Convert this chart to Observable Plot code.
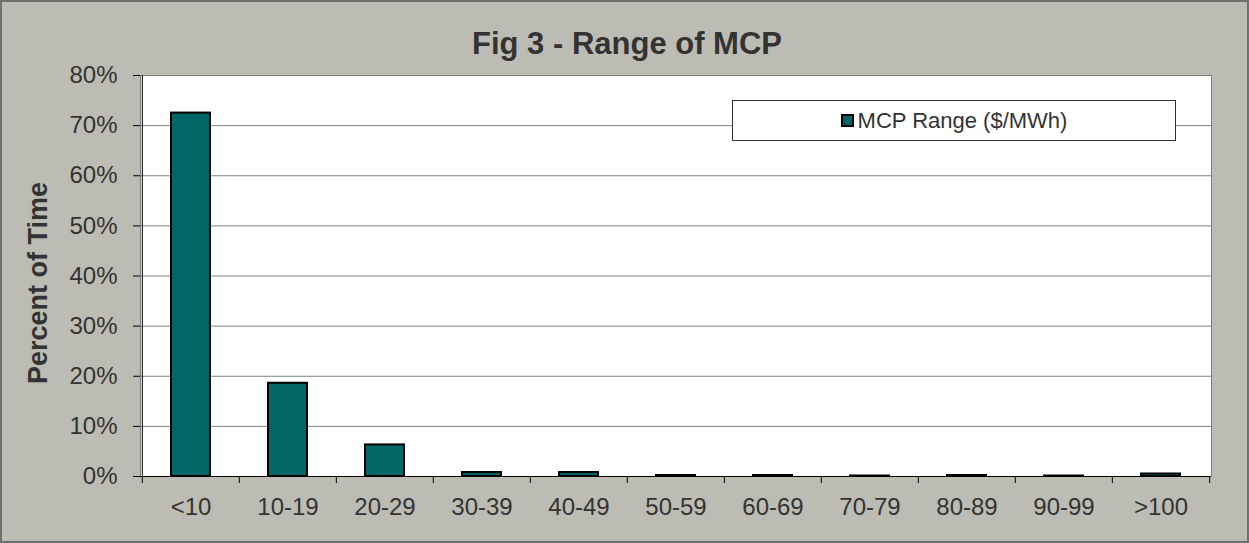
<!DOCTYPE html>
<html>
<head>
<meta charset="utf-8">
<script src="https://cdn.jsdelivr.net/npm/d3@7"></script>
<script src="https://cdn.jsdelivr.net/npm/@observablehq/plot@0.6"></script>
<style>
  html, body { margin: 0; padding: 0; background: #ffffff; }
  #wrap { position: relative; width: 1249px; height: 543px; background: #BDBCB4; overflow: hidden;
          font-family: "Liberation Sans", Arial, sans-serif; color: #333; }
  #wrap svg { position: absolute; left: 0; top: 0; }
  #border { position: absolute; left: 0; top: 0; width: 1249px; height: 543px; box-sizing: border-box;
            border: 2px solid #707070; pointer-events: none; }
  #title { position: absolute; left: 0; top: 28px; width: 1254px; text-align: center; font-weight: bold;
           font-size: 31px; line-height: 1; color: #333; white-space: nowrap; }
  #ylabel { position: absolute; left: 37.5px; top: 283px; transform: translate(-50%, -50%) rotate(-90deg);
            font-weight: bold; font-size: 27px; line-height: 1; white-space: nowrap; color: #333; }
  #legend { position: absolute; left: 732px; top: 100px; width: 444px; height: 41px; box-sizing: border-box;
            border: 1px solid #333; background: #fff; display: flex; align-items: center; justify-content: center;
            font-size: 22px; color: #333; white-space: nowrap; }
  #legend .sw { display: inline-block; width: 9px; height: 9px; border: 2px solid #000; background: #006666;
                margin-right: 4px; }
</style>
</head>
<body>
<div id="wrap">
  <div id="chart"></div>
  <div id="title">Fig 3 - Range of MCP</div>
  <div id="ylabel">Percent of Time</div>
  <div id="legend"><span class="sw"></span>MCP Range ($/MWh)</div>
  <div id="border"></div>
</div>
<script>
// Data
const categories = ["<10", "10-19", "20-29", "30-39", "40-49", "50-59", "60-69", "70-79", "80-89", "90-99", ">100"];
const percentOfTime = [72.5, 18.6, 6.3, 0.8, 0.8, 0.2, 0.2, 0.1, 0.2, 0.1, 0.5];
const yTicks = [0, 10, 20, 30, 40, 50, 60, 70, 80];
const gridTicks = [10, 20, 30, 40, 50, 60, 70];

const data = categories.map((c, i) => ({range: c, pct: percentOfTime[i]}));

const W = 1249, H = 543;
const mL = 140, mR = 38, mT = 75, mB = 67;
const paddingInner = 0.6;
const step = (W - mL - mR) / categories.length; // paddingOuter = paddingInner / 2
const plotH = H - mT - mB;

const chart = Plot.plot({
  width: W,
  height: H,
  marginLeft: mL,
  marginRight: mR,
  marginTop: mT,
  marginBottom: mB,
  style: {background: "transparent", fontFamily: "'Liberation Sans', Arial, sans-serif", fontSize: "24px", color: "#333"},
  x: {domain: categories, paddingInner: paddingInner, paddingOuter: paddingInner / 2, label: null},
  y: {domain: [0, 80], label: null},
  marks: [
    Plot.frame({fill: "white", stroke: "#808080"}),
    Plot.gridY(gridTicks, {stroke: "#808080", strokeOpacity: 1}),
    Plot.barY(data, {x: "range", y: "pct", fill: "#006666", stroke: "#000", strokeWidth: 2}),
    // x-axis category boundary ticks
    Plot.ruleX(categories.slice(1), {dx: -step / 2, stroke: "#000", insetTop: plotH, insetBottom: -7}),
    Plot.ruleX([categories[categories.length - 1]], {dx: step / 2, stroke: "#000", insetTop: plotH, insetBottom: -7}),
    // y axis line (plus tick below)
    Plot.ruleX([categories[0]], {dx: -step / 2, stroke: "#000", insetBottom: -7}),
    Plot.ruleY([0], {stroke: "#000"}),
    Plot.axisY(yTicks, {tickSize: 7, tickPadding: 16, tickFormat: d => d + "%", stroke: "#000", fill: "#333", fontSize: 24, label: null}),
    Plot.axisX({tickSize: 0, tickPadding: 21, fill: "#333", fontSize: 24, label: null})
  ]
});
document.getElementById("chart").appendChild(chart);
</script>
</body>
</html>
